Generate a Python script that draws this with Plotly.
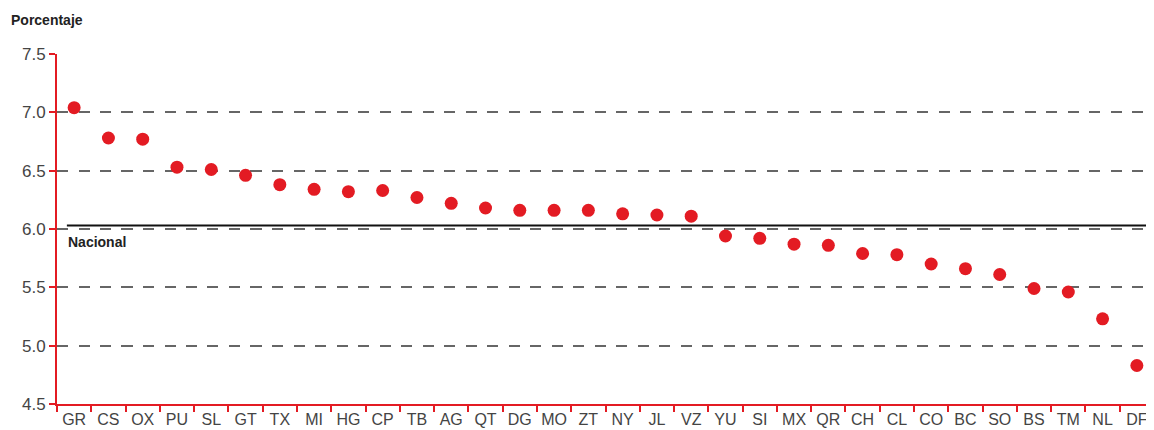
import plotly.graph_objects as go

states = ["GR","CS","OX","PU","SL","GT","TX","MI","HG","CP","TB","AG","QT","DG","MO",
          "ZT","NY","JL","VZ","YU","SI","MX","QR","CH","CL","CO","BC","SO","BS","TM","NL","DF"]
values = [7.04,6.78,6.77,6.53,6.51,6.46,6.38,6.34,6.32,6.33,6.27,6.22,6.18,6.16,6.16,
          6.16,6.13,6.12,6.11,5.94,5.92,5.87,5.86,5.79,5.78,5.70,5.66,5.61,5.49,5.46,5.23,4.83]
nacional = 6.03
y_ticks = [4.5, 5.0, 5.5, 6.0, 6.5, 7.0, 7.5]

RED = "#e31b23"
FONT = "Liberation Sans, Arial, sans-serif"

fig = go.Figure()
fig.add_trace(go.Scatter(
    x=states, y=values, mode="markers",
    marker=dict(color=RED, size=13, line=dict(width=0)),
    showlegend=False, hoverinfo="x+y"))

fig.add_shape(type="line", xref="paper", yref="y", x0=0.009, x1=1, y0=nacional, y1=nacional,
              line=dict(color="#111111", width=2))
fig.add_annotation(xref="paper", yref="y", x=0.008, y=nacional, yshift=-16, xanchor="left",
                   text="<b>Nacional</b>", showarrow=False,
                   font=dict(family=FONT, size=14, color="#222222"))
fig.add_annotation(xref="paper", yref="paper", x=-0.0435, y=1.068, xanchor="left", yanchor="bottom",
                   text="<b>Porcentaje</b>", showarrow=False,
                   font=dict(family=FONT, size=14, color="#222222"))

fig.update_layout(
    width=1146, height=422,
    margin=dict(l=49, r=0, t=46, b=26),
    paper_bgcolor="white", plot_bgcolor="white",
    font=dict(family=FONT, size=17, color="#444444"),
)
fig.update_xaxes(
    type="category", categoryorder="array", categoryarray=states,
    range=[-0.5, len(states) - 0.5],
    showgrid=False, showline=True, linecolor=RED, linewidth=2,
    ticks="outside", tickson="boundaries", tickcolor=RED, ticklen=6, tickwidth=2,
    tickangle=0, automargin=False,
    tickfont=dict(family=FONT, size=16, color="#444444"),
    zeroline=False, fixedrange=True)
fig.update_yaxes(
    range=[4.5, 7.5], tickvals=y_ticks, ticktext=[f"{v:.1f}" for v in y_ticks],
    showgrid=True, gridcolor="#666666", gridwidth=1.5, griddash="11px,10.5px",
    showline=True, linecolor=RED, linewidth=2, automargin=False,
    ticks="outside", tickcolor=RED, ticklen=6, tickwidth=2,
    tickfont=dict(family=FONT, size=17, color="#444444"),
    zeroline=False, fixedrange=True)

fig.write_html("out.html")
